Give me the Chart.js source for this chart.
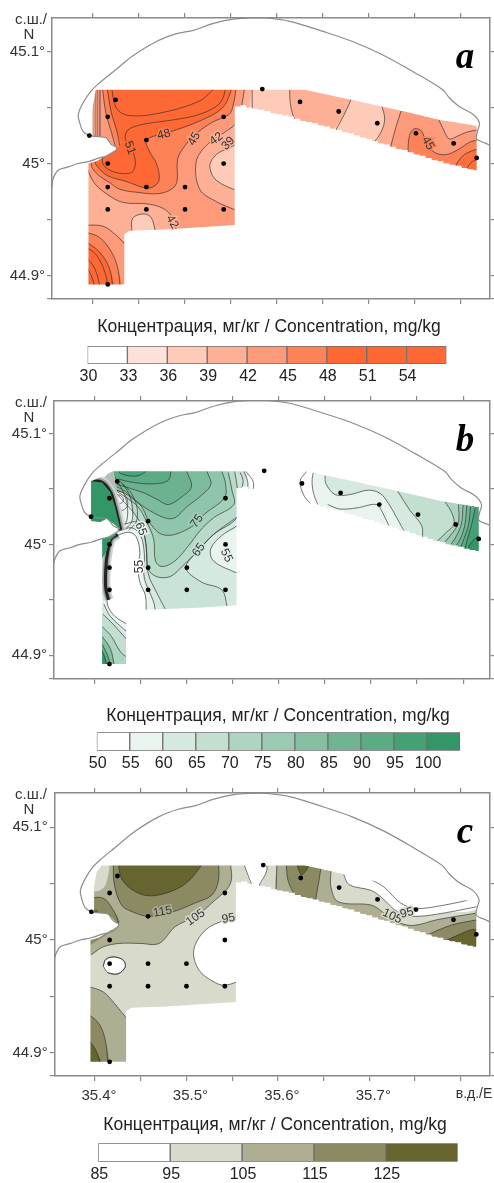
<!DOCTYPE html>
<html>
<head>
<meta charset="utf-8">
<style>
  html, body { margin: 0; padding: 0; background: #fff; }
  body { position: relative; width: 494px; height: 1183px; overflow: hidden; }
  canvas { position: absolute; left: 0; filter: blur(0.45px); }
</style>
<script src="https://cdn.jsdelivr.net/npm/chart.js@4"></script>
</head>
<body>
<canvas id="mapA" width="494" height="310" style="top:0"></canvas>
<canvas id="legendA" width="494" height="72" style="top:315px"></canvas>
<canvas id="mapB" width="494" height="300" style="top:390px"></canvas>
<canvas id="legendB" width="494" height="72" style="top:703px"></canvas>
<canvas id="mapC" width="494" height="325" style="top:780px"></canvas>
<canvas id="legendC" width="494" height="70" style="top:1113px"></canvas>
<script>
// Axis ticks, shared by the three maps
const lonTicks = [35.4, 35.45, 35.5, 35.55, 35.6, 35.65, 35.7, 35.75, 35.8];
const lonLabels = ['35.4°', '', '35.5°', '', '35.6°', '', '35.7°', '', ''];
const latTicks = [44.9, 44.95, 45, 45.05, 45.1];
const latLabels = ['44.9°', '', '45°', '', '45.1°'];

// Sampling stations (same in every panel)
const stationLon = [35.4245, 35.416, 35.396, 35.458, 35.542, 35.416, 35.416, 35.458, 35.5, 35.542, 35.416, 35.458, 35.5, 35.542, 35.416, 35.584, 35.625, 35.667, 35.709, 35.751, 35.792, 35.817];
const stationLat = [45.0568, 45.0417, 45.025, 45.021, 45.0417, 45.0, 44.979, 44.979, 44.979, 45.0, 44.959, 44.959, 44.959, 44.959, 44.892, 45.0665, 45.055, 45.0465, 45.036, 45.027, 45.018, 45.005];

// Shore line, lon/lat
const coast = [[35.355,44.977],[35.356,44.985],[35.362,44.994],[35.373,44.997],[35.384,45.000],[35.396,45.002],[35.407,45.005],[35.420,45.008],[35.426,45.014],[35.420,45.017],[35.414,45.023],[35.405,45.024],[35.396,45.025],[35.389,45.029],[35.385,45.038],[35.384,45.044],[35.389,45.054],[35.398,45.065],[35.407,45.072],[35.422,45.082],[35.443,45.096],[35.469,45.109],[35.491,45.116],[35.509,45.119],[35.530,45.125],[35.552,45.129],[35.570,45.130],[35.588,45.130],[35.614,45.127],[35.650,45.118],[35.682,45.109],[35.715,45.097],[35.748,45.082],[35.780,45.066],[35.787,45.059],[35.798,45.051],[35.813,45.044],[35.820,45.036],[35.818,45.029],[35.817,45.022],[35.827,45.018],[35.832,45.016]];

// Extent of the interpolated field
const mapBox = [[35.34,45.14],[35.84,45.14],[35.84,44.87],[35.34,44.87]];
const bandOutline = [[35.630,45.066],[35.681,45.057],[35.741,45.046],[35.777,45.039],[35.817,45.034],[35.817,44.993],[35.777,45.001],[35.723,45.015],[35.668,45.029],[35.614,45.041],[35.560,45.051],[35.554,45.051]];
const coverageMain = [[35.403,45.066],...bandOutline,[35.554,44.945],[35.516,44.943],[35.478,44.941],[35.440,44.940],[35.434,44.937],[35.434,44.892],[35.395,44.892],[35.395,45.000],[35.404,45.002],[35.416,45.008],[35.426,45.013],[35.418,45.020],[35.413,45.024],[35.399,45.024],[35.399,45.048]];
const coverageB = [[35.420,45.066],...bandOutline,[35.554,44.945],[35.518,44.943],[35.456,44.941],[35.434,44.937],[35.434,44.892],[35.408,44.892],[35.408,45.005],[35.422,45.011],[35.427,45.014],[35.420,45.019],[35.413,45.023],[35.406,45.020],[35.396,45.021],[35.396,45.057]];
// Stair steps of the gridded field along the eastern band
const teethTop = [[35.630,45.066],[35.6365,45.065],[35.643,45.064],[35.6495,45.063],[35.656,45.062],[35.6625,45.060],[35.669,45.059],[35.6755,45.058],[35.682,45.057],[35.6885,45.056],[35.695,45.054],[35.7015,45.053],[35.708,45.052],[35.7145,45.051],[35.721,45.050],[35.7275,45.049],[35.734,45.047],[35.7405,45.046],[35.747,45.045],[35.7535,45.044],[35.760,45.042],[35.7665,45.041],[35.773,45.040],[35.7795,45.039],[35.786,45.038],[35.7925,45.037],[35.799,45.036],[35.8055,45.035],[35.812,45.034],[35.825,45.034],[35.825,45.075],[35.630,45.075]];
const teethBottom = [[35.560,45.052],[35.5665,45.050],[35.573,45.049],[35.5795,45.048],[35.586,45.047],[35.5925,45.045],[35.599,45.044],[35.6055,45.043],[35.612,45.042],[35.6185,45.040],[35.625,45.038],[35.6315,45.037],[35.638,45.036],[35.6445,45.034],[35.651,45.033],[35.6575,45.031],[35.664,45.030],[35.6705,45.028],[35.677,45.027],[35.6835,45.025],[35.690,45.023],[35.6965,45.022],[35.703,45.020],[35.7095,45.018],[35.716,45.017],[35.7225,45.015],[35.729,45.013],[35.7355,45.012],[35.742,45.010],[35.7485,45.008],[35.755,45.007],[35.7615,45.005],[35.768,45.003],[35.7745,45.002],[35.781,45.000],[35.7875,44.999],[35.794,44.998],[35.8005,44.996],[35.807,44.995],[35.8135,44.994],[35.825,44.985],[35.560,44.985]];

// Panel a: contour lines, mg/kg
const aCore = [[35.420,45.069],[35.425,45.050],[35.438,45.043],[35.472,45.045],[35.516,45.056],[35.534,45.069]];
const a51 = [[35.545,45.069],[35.538,45.054],[35.516,45.044],[35.487,45.039],[35.454,45.035],[35.438,45.030],[35.435,45.022],[35.442,45.013],[35.446,45.001],[35.442,44.992],[35.425,44.992],[35.413,44.997],[35.410,45.003],[35.414,45.008],[35.424,45.014]];
const a48 = [[35.552,45.069],[35.541,45.050],[35.516,45.038],[35.483,45.028],[35.458,45.021],[35.462,45.010],[35.469,45.000],[35.472,44.986],[35.467,44.980],[35.458,44.978],[35.436,44.984],[35.416,44.989],[35.405,44.997],[35.402,45.003],[35.407,45.008]];
const a48North = [[35.429,45.016],[35.426,45.029],[35.420,45.045],[35.415,45.069]];
const a45 = [[35.556,45.069],[35.552,45.051],[35.548,45.044],[35.530,45.037],[35.514,45.028],[35.500,45.016],[35.492,45.004],[35.491,44.983],[35.483,44.976],[35.469,44.973],[35.451,44.974],[35.429,44.977],[35.418,44.983],[35.404,44.991],[35.398,45.000],[35.407,45.011]];
const a45North = [[35.424,45.016],[35.420,45.028],[35.414,45.045],[35.410,45.069]];
const a42East = [[35.565,45.069],[35.561,45.050],[35.554,45.035],[35.545,45.029],[35.523,45.016],[35.512,45.001],[35.516,44.977],[35.534,44.966],[35.559,44.957]];
const a42South = [[35.491,44.939],[35.487,44.951],[35.476,44.960],[35.458,44.964],[35.434,44.965],[35.420,44.970],[35.402,44.982],[35.393,44.997]];
const a39 = [[35.561,45.019],[35.548,45.014],[35.534,45.008],[35.527,44.998],[35.534,44.985],[35.561,44.974]];
const a36 = [[35.442,44.939],[35.443,44.951],[35.454,44.955],[35.463,44.952],[35.468,44.939]];
const aSw42 = [[35.391,44.945],[35.411,44.944],[35.425,44.936],[35.438,44.925]];
const aSw45 = [[35.391,44.939],[35.407,44.934],[35.420,44.921],[35.427,44.906],[35.430,44.885]];
const aSw48 = [[35.391,44.931],[35.407,44.921],[35.418,44.906],[35.422,44.885]];
const aSw51 = [[35.391,44.926],[35.404,44.918],[35.414,44.900],[35.416,44.885]];
const aSw54 = [[35.391,44.918],[35.402,44.906],[35.409,44.885]];
const aSw57 = [[35.391,44.911],[35.398,44.900],[35.404,44.885]];
const aStripes = [35.401, 35.403, 35.405, 35.407, 35.408];
const aBand1 = [[35.573,45.071],[35.573,45.042]];
const aBand2 = [[35.614,45.071],[35.614,45.057],[35.617,45.044],[35.624,45.032]];
const aBand3 = [[35.682,45.060],[35.672,45.042],[35.661,45.026]];
const aBand4 = [[35.713,45.054],[35.717,45.040],[35.713,45.028],[35.703,45.016]];
const aBand5 = [[35.736,45.050],[35.729,45.032],[35.723,45.013]];
const aBand6 = [[35.742,45.008],[35.744,45.025],[35.749,45.031],[35.757,45.029],[35.762,45.019],[35.771,45.010],[35.784,45.008],[35.798,45.013],[35.809,45.019],[35.818,45.021]];
const aBand7 = [[35.774,45.042],[35.780,45.032],[35.787,45.022],[35.795,45.024],[35.806,45.028],[35.818,45.030]];
const aBand8 = [[35.793,44.997],[35.802,45.007],[35.811,45.011],[35.818,45.013]];
const aBand9 = [[35.806,44.995],[35.811,45.001],[35.818,45.004]];

// Panel b: contour lines, mg/kg
const b55 = [[35.424,45.008],[35.437,45.011],[35.445,45.007],[35.449,44.993],[35.447,44.980],[35.449,44.966],[35.455,44.954],[35.456,44.937]];
const b60 = [[35.426,45.012],[35.440,45.015],[35.450,45.008],[35.454,44.990],[35.453,44.977],[35.455,44.966],[35.464,44.948],[35.466,44.937]];
const bIsle = [[35.557,44.974],[35.552,44.975],[35.529,44.985],[35.526,44.996],[35.538,45.008],[35.557,45.018]];
const bLow = [[35.431,45.018],[35.446,45.020],[35.455,45.005],[35.458,44.974],[35.467,44.957],[35.477,44.941]];
const bMid = [[35.544,44.943],[35.538,44.959],[35.516,44.966],[35.499,44.979],[35.513,44.995],[35.529,45.009],[35.555,45.025]];
const b65 = [[35.552,45.066],[35.555,45.049],[35.555,45.025],[35.529,45.009],[35.513,44.995],[35.496,44.981],[35.482,44.971],[35.467,44.971],[35.458,44.978],[35.456,44.996],[35.451,45.017],[35.440,45.031],[35.431,45.039],[35.424,45.046]];
const b70 = [[35.545,45.065],[35.549,45.049],[35.551,45.036],[35.529,45.024],[35.514,45.012],[35.502,44.999],[35.487,44.985],[35.473,44.980],[35.466,44.985],[35.464,45.005],[35.456,45.021],[35.447,45.034],[35.433,45.043],[35.424,45.048]];
const b75 = [[35.538,45.066],[35.542,45.055],[35.541,45.042],[35.520,45.028],[35.507,45.017],[35.487,45.009],[35.473,45.009],[35.464,45.015],[35.458,45.022],[35.451,45.034],[35.440,45.042],[35.433,45.046],[35.424,45.049]];
const b80 = [[35.522,45.066],[35.526,45.054],[35.514,45.043],[35.500,45.034],[35.487,45.024],[35.476,45.024],[35.455,45.033],[35.444,45.040],[35.433,45.048],[35.424,45.052]];
const b85 = [[35.500,45.066],[35.505,45.052],[35.493,45.042],[35.480,45.036],[35.469,45.040],[35.455,45.046],[35.433,45.052],[35.424,45.054]];
const b90 = [[35.483,45.066],[35.480,45.058],[35.469,45.055],[35.451,45.055],[35.435,45.057],[35.426,45.059]];
const b95 = [[35.456,45.066],[35.447,45.062],[35.437,45.062],[35.428,45.064],[35.426,45.066]];
const bPale = [[35.422,45.049],[35.433,45.046],[35.439,45.034],[35.441,45.021],[35.434,45.014],[35.428,45.014],[35.422,45.031]];
const bHole = [[35.426,45.045],[35.430,45.043],[35.431,45.039],[35.427,45.037],[35.422,45.040],[35.422,45.044]];
const bRing = [[35.424,45.049],[35.433,45.045],[35.436,45.036],[35.431,45.031],[35.424,45.031],[35.418,45.041]];
const bDense1 = [[35.428,45.057],[35.437,45.046],[35.441,45.033],[35.440,45.020],[35.433,45.014]];
const bDense2 = [[35.430,45.055],[35.440,45.046],[35.446,45.033],[35.445,45.020],[35.437,45.013]];
const bDense3 = [[35.422,45.061],[35.430,45.049],[35.435,45.037],[35.435,45.022],[35.429,45.014]];
const bWest = [[35.420,45.068],[35.424,45.049],[35.422,45.031],[35.427,45.014],[35.417,45.034],[35.406,45.057]];
const bFrontN = [[35.396,45.057],[35.408,45.056],[35.417,45.047],[35.422,45.034],[35.426,45.020],[35.428,45.013]];
const bSolidN = [...bFrontN,[35.420,45.018],[35.413,45.023],[35.406,45.020],[35.396,45.021]];
const bFrontS = [[35.425,45.009],[35.418,45.005],[35.414,44.993],[35.412,44.978],[35.412,44.960],[35.415,44.950]];
const bSolidS = [[35.424,45.009],[35.408,45.005],[35.408,44.987],[35.412,44.993],[35.418,45.005]];
const bSw55 = [[35.413,44.951],[35.415,44.943],[35.422,44.935],[35.435,44.928]];
const bSw60 = [[35.410,44.946],[35.417,44.935],[35.435,44.921]];
const bSw65 = [[35.409,44.937],[35.420,44.928],[35.435,44.914]];
const bSw70 = [[35.408,44.926],[35.418,44.917],[35.428,44.903],[35.435,44.898]];
const bSw75 = [[35.408,44.917],[35.417,44.906],[35.421,44.892]];
const bSw85 = [[35.408,44.910],[35.414,44.900],[35.417,44.891]];
const bSw95 = [[35.408,44.904],[35.411,44.898],[35.413,44.891]];
const bArc1 = [[35.558,45.065],[35.561,45.058],[35.560,45.051]];
const bArc2 = [[35.562,45.066],[35.566,45.057],[35.566,45.049]];
const bArc3 = [[35.564,45.066],[35.572,45.057],[35.572,45.048]];
const bBand0 = [[35.630,45.066],[35.623,45.057],[35.628,45.043],[35.639,45.033]];
const bBand55 = [[35.638,45.068],[35.636,45.057],[35.638,45.045],[35.645,45.031]];
const bBand60 = [[35.650,45.062],[35.651,45.055],[35.661,45.045],[35.677,45.045],[35.697,45.049],[35.710,45.046],[35.719,45.037],[35.728,45.024],[35.738,45.009]];
const bBandLow = [[35.653,45.036],[35.666,45.032],[35.685,45.033],[35.706,45.036],[35.713,45.028],[35.721,45.014]];
const bBand65 = [[35.729,45.048],[35.742,45.031],[35.755,45.017],[35.756,45.005]];
const bBand70 = [[35.780,45.039],[35.788,45.028],[35.790,45.018],[35.782,45.011],[35.771,45.002]];
const bBand75 = [[35.795,45.036],[35.795,45.020],[35.789,45.011],[35.780,45.002]];
const bBand80 = [[35.800,45.036],[35.798,45.018],[35.791,45.005],[35.786,44.999]];
const bBand85 = [[35.804,45.035],[35.802,45.018],[35.797,45.005],[35.791,44.997]];
const bBand90 = [[35.808,45.034],[35.806,45.018],[35.800,45.003],[35.797,44.996]];
const bBand95 = [[35.813,45.033],[35.809,45.017],[35.804,45.003],[35.802,44.994]];
const bBand100 = [[35.817,45.008],[35.809,45.002],[35.806,44.996],[35.807,44.987]];

// Panel c: contour lines, mg/kg
const c105 = [[35.548,45.071],[35.548,45.050],[35.528,45.033],[35.510,45.021],[35.488,45.012],[35.470,44.997],[35.449,44.997],[35.427,44.997],[35.409,44.994],[35.396,44.987]];
const c115 = [[35.420,45.071],[35.421,45.050],[35.429,45.031],[35.441,45.025],[35.459,45.021],[35.485,45.025],[35.510,45.033],[35.528,45.040],[35.535,45.053],[35.535,45.071]];
const c125 = [[35.425,45.071],[35.430,45.053],[35.449,45.041],[35.470,45.040],[35.499,45.050],[35.521,45.071]];
const cNw = [[35.392,45.043],[35.405,45.044],[35.412,45.050],[35.414,45.071],[35.392,45.071]];
const cNwGap = [[35.397,45.049],[35.401,45.059],[35.407,45.066],[35.404,45.066],[35.397,45.056]];
const cCape = [[35.392,45.037],[35.409,45.037],[35.421,45.025],[35.426,45.015]];
const cCapeCore = [[35.395,45.028],[35.403,45.026],[35.406,45.020],[35.395,45.019]];
const cBelowCape = [[35.392,44.994],[35.420,45.009]];
const cLobe = [[35.559,45.022],[35.543,45.018],[35.521,45.009],[35.508,44.991],[35.514,44.973],[35.532,44.962],[35.543,44.960],[35.559,44.964]];
const cHole = [[35.409,44.977],[35.412,44.983],[35.421,44.985],[35.431,44.982],[35.433,44.976],[35.425,44.970],[35.414,44.971]];
const cSw105 = [[35.392,44.959],[35.409,44.954],[35.421,44.944],[35.436,44.929]];
const cSw115 = [[35.392,44.935],[35.405,44.925],[35.412,44.908],[35.414,44.888]];
const cSw125 = [[35.392,44.913],[35.401,44.902],[35.407,44.888]];
const cGapW = [[35.563,45.071],[35.563,45.067],[35.572,45.048]];
const cGapE = [[35.579,45.048],[35.588,45.062],[35.586,45.071]];
const cBand105w = [[35.599,45.071],[35.598,45.041]];
const cBand105e = [[35.818,45.024],[35.774,45.018],[35.749,45.013],[35.734,45.015],[35.716,45.024],[35.702,45.031],[35.666,45.034],[35.658,45.047],[35.658,45.061],[35.658,45.071]];
const cBand115 = [[35.609,45.071],[35.611,45.053],[35.619,45.038],[35.622,45.024],[35.637,45.024],[35.643,45.044],[35.647,45.064],[35.647,45.071]];
const cBand125 = [[35.621,45.071],[35.621,45.067],[35.626,45.058],[35.634,45.066],[35.635,45.071]];
const cBand95 = [[35.672,45.058],[35.678,45.049],[35.702,45.044],[35.713,45.038],[35.731,45.025],[35.749,45.021],[35.782,45.024],[35.820,45.030]];
const cBandTop = [[35.701,45.054],[35.716,45.047],[35.734,45.033],[35.751,45.028],[35.782,45.031],[35.812,45.036]];
const cEnd115 = [[35.762,45.004],[35.789,45.013],[35.818,45.018]];
const cEnd125 = [[35.785,45.000],[35.796,45.004],[35.811,45.009],[35.818,45.009]];

// Contour labels: text, lon, lat, angle, colour behind the text
const aLabelText = ['48', '51', '45', '42', '39', '42', '45'];
const aLabelLon = [35.477, 35.440, 35.510, 35.534, 35.547, 35.486, 35.764];
const aLabelLat = [45.026, 45.014, 45.022, 45.022, 45.018, 44.948, 45.018];
const aLabelAngle = [-15, 70, -62, -35, -45, 60, 60];
const aLabelHalo = ['#fd8258', '#fe6835', '#fd9a7a', '#fdb096', '#fdb096', '#fdb096', '#fd8258'];
const bLabelText = ['65', '55', '75', '65', '55'];
const bLabelLon = [35.450, 35.449, 35.511, 35.513, 35.543];
const bLabelLat = [45.014, 44.980, 45.021, 44.995, 44.990];
const bLabelAngle = [70, -90, -55, -55, 65];
const bLabelHalo = ['#e9f4ee', '#ffffff', '#a3d0b9', '#c9e3d6', '#e9f4ee'];
const cLabelText = ['115', '105', '95', '105', '95'];
const cLabelLon = [35.474, 35.510, 35.546, 35.725, 35.741];
const cLabelLat = [45.025, 45.020, 45.019, 45.021, 45.024];
const cLabelAngle = [-10, -35, -10, 25, -15];
const cLabelHalo = ['#aeae92', '#d8dacb', '#d8dacb', '#d8dacb', '#d8dacb'];

// Colour scales
const legendTitle = 'Концентрация, мг/кг / Concentration, mg/kg';
const aEdges = [30, 33, 36, 39, 42, 45, 48, 51, 54, 57];
const aColors = ['#ffffff', '#fee2d9', '#fecbb9', '#fdb096', '#fd9a7a', '#fd8258', '#fe6835', '#fe6835', '#fe6835'];
const bEdges = [50, 55, 60, 65, 70, 75, 80, 85, 90, 95, 100, 105];
const bColors = ['#ffffff', '#e9f4ee', '#d5e9df', '#c2dfd0', '#add5c1', '#9acab1', '#84bfa2', '#70b493', '#5bab84', '#46a075', '#329666'];
const cEdges = [85, 95, 105, 115, 125, 135];
const cColors = ['#ffffff', '#d8dacb', '#aeae92', '#8b8a63', '#67652f'];

const fontName = '"Liberation Sans", Arial, sans-serif';
const frameColor = '#8a8a8a';
const lineColor = 'rgba(45,45,45,0.72)';

const toXY = p => ({ x: p[0], y: p[1] });
const rev = a => a.slice().reverse();

function shape(points, color, tension = 0.35) {
  return { data: points.map(toXY), showLine: true, fill: 'shape', backgroundColor: color, borderWidth: 0, pointRadius: 0, tension };
}
function line(points, color = lineColor, width = 0.9) {
  return { data: points.map(toXY), showLine: true, fill: false, borderColor: color, borderWidth: width, pointRadius: 0, tension: 0.35 };
}
function mask(coverage) {
  return shape([...mapBox, mapBox[0], ...rev([...coverage, coverage[0]]), mapBox[0]], '#ffffff', 0);
}
function teeth(points) {
  return { ...shape(points, '#ffffff', 0), stepped: true };
}
function finish(layers, coverage) {
  layers.push(mask(coverage));
  layers.push(teeth(teethTop));
  layers.push(teeth(teethBottom));
  layers.push(line(coast, '#8c8c8c', 1.2));
  layers.push({ data: stationLon.map((x, i) => ({ x, y: stationLat[i] })), showLine: false, pointRadius: 2.4, pointBackgroundColor: '#000', pointBorderWidth: 0 });
  // first dataset paints last in Chart.js, so the order runs backwards
  layers.forEach((d, i) => { d.order = layers.length - i; });
  return layers;
}

// Panel a layers, painted bottom to top
const aLayers = [
  shape(mapBox, '#fdb096', 0),
  shape([...a42East, [35.567,44.939], ...a42South, [35.393,45.075], [35.565,45.075]], '#fd9a7a'),
  shape([[35.396,45.075],[35.402,45.075],[35.402,45.018],[35.396,45.018]], '#fdc3ab', 0),
  shape([...aBand1, ...rev(aBand2)], '#fecbb9'),
  shape([...aBand3, ...rev(aBand4)], '#fecbb9'),
  shape([...aBand5, [35.723,44.986], [35.824,44.986], [35.824,45.030], ...rev(aBand7), [35.774,45.057], [35.736,45.057]], '#fd9a7a'),
  shape([...aBand6, [35.824,45.021], [35.824,44.986], [35.742,44.986]], '#fd8258'),
  shape([...aBand8, [35.824,45.013], [35.824,44.986], [35.793,44.986]], '#fe6f3e'),
  shape([...a39, [35.568,44.974], [35.568,45.019]], '#fecbb9'),
  shape([...a45, ...a45North, [35.410,45.075], [35.556,45.075]], '#fd8258'),
  shape([...a48, ...a48North, [35.415,45.075], [35.552,45.075]], '#fe6835'),
  shape([...aSw42, [35.438,44.885], [35.391,44.885]], '#fd9a7a'),
  shape([...aSw45, [35.391,44.885]], '#fd8258'),
  shape([...aSw48, [35.391,44.885]], '#fe6835'),
  shape(a36, '#fecbb9'),
  ...[aCore, a51, a48, a48North, a45, a45North, a42East, a42South, a39, a36, aSw42, aSw45, aSw48, aSw51, aSw54, aSw57, aBand1, aBand2, aBand3, aBand4, aBand5, aBand6, aBand7, aBand8, aBand9].map(c => line(c)),
  ...aStripes.map(lon => line([[lon, 45.069], [lon, 45.024]], 'rgba(90,90,90,0.7)', 0.8))
];

// Panel b layers
const bBandEnd = [[35.822,44.981]];
const bLayers = [
  shape([...b55, [35.456,44.931], [35.557,44.931], [35.557,45.073], [35.420,45.073], [35.420,45.008]], '#e9f4ee'),
  shape([...b60, [35.466,44.931], [35.557,44.931], ...bIsle, [35.557,45.073], [35.420,45.073], [35.420,45.012]], '#d5e9df'),
  shape([...bLow, [35.477,44.931], [35.544,44.931], ...bMid, [35.557,45.028], [35.557,45.073], [35.420,45.073], [35.420,45.018]], '#c9e3d6'),
  shape([...b65, [35.420,45.046], [35.420,45.073], [35.552,45.073]], '#b7dac9'),
  shape([...b70, [35.420,45.048], [35.420,45.073], [35.545,45.073]], '#a3d0b9'),
  shape([...b75, [35.420,45.049], [35.420,45.073], [35.538,45.073]], '#8fc5ac'),
  shape([...b80, [35.420,45.052], [35.420,45.073], [35.522,45.073]], '#7dbb9d'),
  shape([...b85, [35.420,45.054], [35.420,45.073], [35.500,45.073]], '#6cb290'),
  shape([...b90, [35.420,45.059], [35.420,45.073], [35.483,45.073]], '#5bab84'),
  shape([...b95, [35.426,45.073], [35.456,45.073]], '#4aa27a'),
  shape(bPale, '#e9f4ee'),
  shape(bHole, '#ffffff'),
  shape([...bSw55, [35.438,44.928], [35.438,44.886], [35.404,44.886], [35.404,44.969], [35.413,44.969]], '#e9f4ee'),
  shape([...bSw60, [35.438,44.921], [35.438,44.886], [35.404,44.886], [35.404,44.946]], '#d5e9df'),
  shape([...bSw65, [35.438,44.914], [35.438,44.886], [35.404,44.886], [35.404,44.937]], '#c2dfd0'),
  shape([...bSw70, [35.438,44.898], [35.438,44.886], [35.404,44.886], [35.404,44.926]], '#add5c1'),
  shape([...bSw75, [35.422,44.886], [35.404,44.886], [35.404,44.917]], '#84bfa2'),
  shape([...bSw85, [35.417,44.886], [35.404,44.886], [35.404,44.910]], '#5bab84'),
  shape([...bSw95, [35.414,44.886], [35.404,44.886], [35.404,44.904]], '#329666'),
  shape([...bBand55, [35.645,45.017], [35.739,44.981], ...bBandEnd, [35.822,45.068]], '#e9f4ee'),
  shape([...bBand60, [35.738,44.981], ...bBandEnd, [35.822,45.068], [35.648,45.068]], '#d5e9df'),
  shape([...bBand65, [35.756,44.981], ...bBandEnd, [35.822,45.052], [35.729,45.052]], '#c2dfd0'),
  shape([...bBand70, [35.771,44.981], ...bBandEnd, [35.822,45.040], [35.780,45.040]], '#add5c1'),
  shape([...bBand75, [35.780,44.981], ...bBandEnd, [35.822,45.039], [35.795,45.039]], '#9acab1'),
  shape([...bBand80, [35.786,44.981], ...bBandEnd, [35.822,45.039], [35.800,45.039]], '#84bfa2'),
  shape([...bBand85, [35.791,44.981], ...bBandEnd, [35.822,45.039], [35.804,45.039]], '#70b493'),
  shape([...bBand90, [35.797,44.981], ...bBandEnd, [35.822,45.039], [35.808,45.039]], '#5bab84'),
  shape([...bBand95, [35.802,44.981], ...bBandEnd, [35.822,45.039], [35.813,45.039]], '#46a075'),
  shape([...bBand100, [35.822,44.987], [35.822,45.008]], '#329666'),
  ...[b55, b60, bLow, bMid, b65, b70, b75, b80, b85, b90, b95, bIsle, bRing, bHole, bDense1, bDense2, bDense3, bSw55, bSw60, bSw65, bSw70, bSw75, bSw85, bSw95, bArc1, bArc2, bArc3, bBand0, bBand55, bBand60, bBandLow, bBand65, bBand70, bBand75, bBand80, bBand85, bBand90, bBand95, bBand100].map(c => line(c)),
  shape(bWest, '#b4beb8'),
  line(bFrontN, '#d0d4d2', 11), line(bFrontN, '#9a9f9c', 7), line(bFrontN, '#222222', 3.5),
  line(bFrontS, '#d0d4d2', 10), line(bFrontS, '#9a9f9c', 6), line(bFrontS, '#222222', 3),
  shape(bSolidN, '#329666', 0),
  shape(bSolidS, '#329666', 0)
];

// Panel c layers
const cLayers = [
  shape(mapBox, '#d8dacb', 0),
  shape([...c105, [35.391,44.987], [35.391,45.071]], '#aeae92'),
  shape(c115, '#8b8a63'),
  shape(c125, '#67652f'),
  shape(cNw, '#d8dacb'),
  shape(cNwGap, '#ffffff'),
  shape([...cCape, [35.392,45.015]], '#8b8a63'),
  shape(cCapeCore, '#67652f'),
  shape([...cBelowCape, [35.392,45.009]], '#8b8a63', 0),
  shape([...cLobe, [35.566,44.964], [35.566,45.022]], '#ffffff'),
  shape(cHole, '#ffffff'),
  shape([...cSw105, [35.438,44.929], [35.438,44.888], [35.392,44.888]], '#aeae92'),
  shape([...cSw115, [35.392,44.888]], '#8b8a63'),
  shape([...cSw125, [35.392,44.888]], '#67652f'),
  shape([...cGapW, ...cGapE], '#ffffff'),
  shape([...cBand105w, [35.611,45.015], [35.738,44.988], [35.823,44.985], [35.823,45.024], ...cBand105e], '#aeae92'),
  shape(cBand115, '#8b8a63'),
  shape(cBand125, '#67652f'),
  shape([[35.666,45.071], ...cBand95, [35.825,45.071]], '#ffffff'),
  shape([...cEnd115, [35.823,45.018], [35.823,44.985], [35.762,44.985]], '#8b8a63'),
  shape([...cEnd125, [35.823,45.009], [35.823,44.985], [35.792,44.985]], '#67652f'),
  ...[c105, c115, c125, cCape, cLobe, cHole, cSw105, cSw115, cSw125, cGapW, cGapE, cBand105w, cBand105e, cBand115, cBand125, cBand95, cBandTop, cEnd115, cEnd125].map(c => line(c))
];
cLayers.push(line([...cHole, cHole[0]]));

// Draws contour labels and the texts around the map frame
const mapText = {
  id: 'mapText',
  afterDatasetsDraw(chart, args, opts) {
    const ctx = chart.ctx, xs = chart.scales.x, ys = chart.scales.y;
    ctx.save();
    ctx.font = '12px ' + fontName;
    ctx.textAlign = 'center';
    ctx.textBaseline = 'middle';
    opts.text.forEach((t, i) => {
      ctx.save();
      ctx.translate(xs.getPixelForValue(opts.lon[i]), ys.getPixelForValue(opts.lat[i]));
      ctx.rotate(opts.angle[i] * Math.PI / 180);
      ctx.lineWidth = 3;
      ctx.strokeStyle = opts.halo[i];
      ctx.strokeText(t, 0, 0);
      ctx.fillStyle = '#333';
      ctx.fillText(t, 0, 0);
      ctx.restore();
    });
    ctx.restore();
  },
  afterDraw(chart, args, opts) {
    const ctx = chart.ctx, top = chart.chartArea.top;
    ctx.save();
    ctx.textAlign = 'center';
    ctx.textBaseline = 'middle';
    ctx.fillStyle = '#333';
    ctx.font = '15px ' + fontName;
    ctx.fillText('с.ш./', 31, top + 2);
    ctx.fillText('N', 29, top + 17);
    if (opts.east) {
      ctx.font = '14px ' + fontName;
      ctx.fillText('в.д./E', 474, chart.chartArea.bottom + 18);
    }
    ctx.font = 'italic bold 37px "Liberation Serif", serif';
    ctx.textBaseline = 'alphabetic';
    ctx.fillStyle = '#000';
    ctx.fillText(opts.letter, 465, top + 50);
    ctx.restore();
  }
};

// Title above a colour bar
const legendText = {
  id: 'legendText',
  afterDraw(chart, args, opts) {
    const ctx = chart.ctx;
    ctx.save();
    ctx.font = '17.5px ' + fontName;
    ctx.textAlign = 'center';
    ctx.textBaseline = 'middle';
    ctx.fillStyle = '#222';
    ctx.fillText(legendTitle, opts.cx, opts.cy);
    ctx.restore();
  }
};

function drawMap(id, cfg) {
  const h = document.getElementById(id).height;
  const tickStyle = { drawOnChartArea: false, color: frameColor, lineWidth: 1.2, tickLength: 5 };
  const edge = { color: frameColor, width: 1.5, z: 1 };
  const setLon = s => { s.ticks = lonTicks.map(value => ({ value })); };
  const setLat = s => { s.ticks = [cfg.yMin, ...latTicks].map(value => ({ value })); };
  new Chart(document.getElementById(id), {
    type: 'scatter',
    data: { datasets: finish(cfg.layers, cfg.coverage) },
    plugins: [mapText],
    options: {
      responsive: false,
      animation: false,
      events: [],
      layout: { padding: { left: 0, top: 0, right: 494 - cfg.right, bottom: 0 } },
      plugins: {
        legend: { display: false },
        tooltip: { enabled: false },
        mapText: { text: cfg.text, lon: cfg.lon, lat: cfg.lat, angle: cfg.angle, halo: cfg.halo, letter: cfg.letter, east: cfg.showLon }
      },
      scales: {
        x: {
          type: 'linear', position: 'bottom', min: cfg.xMin, max: cfg.xMax,
          afterBuildTicks: setLon,
          afterFit: s => { s.height = h - cfg.bottom; },
          grid: tickStyle, border: edge,
          ticks: {
            display: cfg.showLon, autoSkip: false, maxRotation: 0, padding: 6, labelOffset: 4, color: '#333',
            font: { family: fontName, size: 15 },
            callback: v => lonLabels[lonTicks.indexOf(v)] || ''
          }
        },
        xTop: {
          type: 'linear', position: 'top', min: cfg.xMin, max: cfg.xMax,
          afterBuildTicks: setLon,
          afterFit: s => { s.height = cfg.top; },
          grid: tickStyle, border: edge, ticks: { display: false }
        },
        y: {
          type: 'linear', position: 'left', min: cfg.yMin, max: cfg.yMax,
          afterBuildTicks: setLat,
          afterFit: s => { s.width = cfg.left; },
          grid: tickStyle, border: edge,
          ticks: {
            autoSkip: false, padding: 2, color: '#333',
            font: { family: fontName, size: 15 },
            callback: v => latLabels[latTicks.indexOf(v)] || ''
          }
        },
        yRight: {
          type: 'linear', position: 'right', min: cfg.yMin, max: cfg.yMax,
          afterBuildTicks: setLat,
          afterFit: s => { s.width = 0; },
          grid: tickStyle, border: edge, ticks: { display: false }
        }
      }
    }
  });
}

function drawLegend(id, edges, colors, left, right, barTop, barBottom, cx, cy) {
  const h = document.getElementById(id).height;
  new Chart(document.getElementById(id), {
    type: 'bar',
    plugins: [legendText],
    data: {
      labels: [''],
      datasets: colors.map((c, i) => ({
        data: [[edges[i], edges[i + 1]]],
        backgroundColor: c, borderColor: '#6e6e6e', borderWidth: 1, borderSkipped: false,
        grouped: false, barPercentage: 1, categoryPercentage: 1
      }))
    },
    options: {
      indexAxis: 'y',
      responsive: false,
      animation: false,
      events: [],
      layout: { padding: { left, right: 494 - right, top: barTop, bottom: 0 } },
      plugins: {
        legend: { display: false },
        tooltip: { enabled: false },
        legendText: { cx, cy }
      },
      scales: {
        x: {
          type: 'linear', min: edges[0], max: edges[edges.length - 1],
          afterBuildTicks: s => { s.ticks = edges.slice(0, -1).map(value => ({ value })); },
          afterFit: s => { s.height = h - barBottom; },
          grid: { display: false, drawTicks: false }, border: { display: false },
          ticks: { autoSkip: false, maxRotation: 0, padding: 3, labelOffset: 1, color: '#222', font: { family: fontName, size: 16 } }
        },
        y: { display: false }
      }
    }
  });
}

drawMap('mapA', { layers: aLayers, coverage: coverageMain, letter: 'a', showLon: false,
  text: aLabelText, lon: aLabelLon, lat: aLabelLat, angle: aLabelAngle, halo: aLabelHalo,
  left: 52, right: 490, top: 18, bottom: 301, xMin: 35.3554, xMax: 35.8315, yMin: 44.879, yMax: 45.13 });
drawMap('mapB', { layers: bLayers, coverage: coverageB, letter: 'b', showLon: false,
  text: bLabelText, lon: bLabelLon, lat: bLabelLat, angle: bLabelAngle, halo: bLabelHalo,
  left: 54, right: 490, top: 11, bottom: 294, xMin: 35.3558, xMax: 35.8292, yMin: 44.8785, yMax: 45.1295 });
drawMap('mapC', { layers: cLayers, coverage: coverageMain, letter: 'c', showLon: true,
  text: cLabelText, lon: cLabelLon, lat: cLabelLat, angle: cLabelAngle, halo: cLabelHalo,
  left: 54.7, right: 492.7, top: 13, bottom: 296, xMin: 35.3559, xMax: 35.832, yMin: 44.8794, yMax: 45.1304 });

drawLegend('legendA', aEdges, aColors, 87.5, 446.5, 31, 49, 269, 12.3);
drawLegend('legendB', bEdges, bColors, 96.7, 460, 29.3, 47.7, 278, 12.7);
drawLegend('legendC', cEdges, cColors, 98.3, 457.7, 30.3, 48.7, 275, 12);
</script>
</body>
</html>
